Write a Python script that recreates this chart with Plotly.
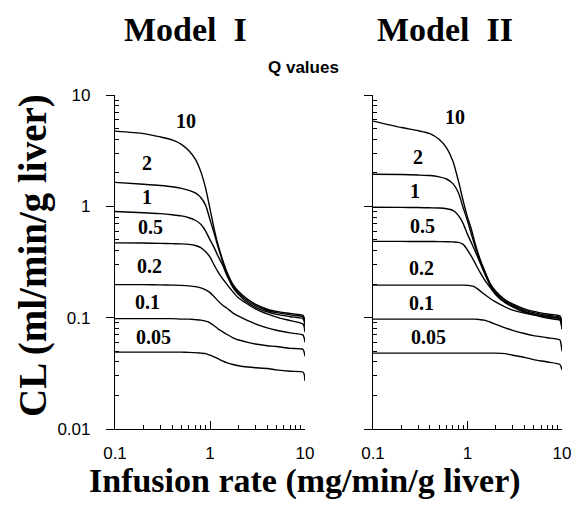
import plotly.graph_objects as go

# ---------------- data ----------------
infusion_rate = [0.1, 0.2, 0.3, 0.4, 0.5, 0.6, 0.7, 0.8, 0.9, 1.0, 1.1, 1.2,
                 1.35, 1.5, 1.75, 2.0, 2.5, 3, 4, 5, 7, 9.5, 9.8, 10]
q_labels = ["10", "2", "1", "0.5", "0.2", "0.1", "0.05"]

# Model I clearance (ml/min/g liver)
m1_q10 = [4.74, 4.5, 4.2, 3.95, 3.6, 3.15, 2.65, 2.05, 1.45, 0.95, 0.64, 0.47,
          0.335, 0.26, 0.198, 0.172, 0.146, 0.132, 0.119, 0.114, 0.109, 0.105, 0.1, 0.092]
m1_q2 = [1.64, 1.58, 1.54, 1.5, 1.45, 1.39, 1.32, 1.2, 1.02, 0.76, 0.58, 0.45,
         0.325, 0.252, 0.192, 0.166, 0.141, 0.128, 0.116, 0.111, 0.106, 0.102, 0.097, 0.088]
m1_q1 = [0.90, 0.875, 0.86, 0.84, 0.82, 0.79, 0.75, 0.69, 0.6, 0.5, 0.43, 0.365,
         0.3, 0.242, 0.186, 0.161, 0.136, 0.124, 0.113, 0.107, 0.102, 0.098, 0.093, 0.084]
m1_q05 = [0.47, 0.468, 0.465, 0.462, 0.46, 0.455, 0.445, 0.425, 0.39, 0.35, 0.3, 0.262,
          0.225, 0.2, 0.17, 0.15, 0.132, 0.12, 0.108, 0.101, 0.094, 0.088, 0.083, 0.074]
m1_q02 = [0.198, 0.198, 0.197, 0.196, 0.195, 0.193, 0.19, 0.185, 0.178, 0.168, 0.155, 0.143,
          0.13, 0.122, 0.11, 0.103, 0.094, 0.088, 0.081, 0.077, 0.073, 0.07, 0.066, 0.06]
m1_q01 = [0.098, 0.098, 0.098, 0.098, 0.097, 0.097, 0.096, 0.095, 0.093, 0.09, 0.085, 0.08,
          0.075, 0.071, 0.066, 0.063, 0.06, 0.058, 0.056, 0.055, 0.053, 0.052, 0.049, 0.045]
m1_q005 = [0.049, 0.049, 0.049, 0.049, 0.049, 0.0488, 0.0485, 0.048, 0.0475, 0.046, 0.0445, 0.043,
           0.041, 0.0395, 0.038, 0.037, 0.036, 0.0355, 0.035, 0.034, 0.033, 0.0325, 0.031, 0.027]

# Model II clearance (ml/min/g liver)
m2_q10 = [5.83, 5.1, 4.78, 4.5, 4.0, 3.35, 2.55, 1.7, 1.12, 0.8, 0.62, 0.47,
          0.34, 0.27, 0.2, 0.172, 0.145, 0.133, 0.12, 0.114, 0.108, 0.104, 0.098, 0.09]
m2_q2 = [1.94, 1.93, 1.91, 1.89, 1.84, 1.76, 1.6, 1.33, 0.97, 0.74, 0.56, 0.44,
         0.33, 0.265, 0.197, 0.168, 0.142, 0.13, 0.117, 0.111, 0.105, 0.101, 0.095, 0.087]
m2_q1 = [0.98, 0.978, 0.975, 0.97, 0.965, 0.95, 0.92, 0.83, 0.7, 0.56, 0.47, 0.4,
         0.315, 0.255, 0.192, 0.164, 0.138, 0.127, 0.114, 0.108, 0.102, 0.098, 0.092, 0.083]
m2_q05 = [0.484, 0.484, 0.483, 0.483, 0.482, 0.481, 0.479, 0.475, 0.455, 0.405, 0.355, 0.31,
          0.258, 0.222, 0.185, 0.16, 0.136, 0.125, 0.112, 0.106, 0.099, 0.095, 0.089, 0.079]
m2_q02 = [0.196, 0.196, 0.196, 0.196, 0.196, 0.196, 0.196, 0.196, 0.196, 0.195, 0.193, 0.188,
          0.175, 0.163, 0.148, 0.138, 0.125, 0.117, 0.11, 0.106, 0.102, 0.098, 0.09, 0.079]
m2_q01 = [0.097, 0.097, 0.097, 0.097, 0.097, 0.097, 0.097, 0.097, 0.097, 0.097, 0.097, 0.097,
          0.096, 0.095, 0.091, 0.087, 0.081, 0.077, 0.072, 0.069, 0.066, 0.063, 0.057, 0.05]
m2_q005 = [0.048, 0.048, 0.048, 0.048, 0.048, 0.048, 0.048, 0.048, 0.048, 0.048, 0.048, 0.048,
           0.048, 0.048, 0.048, 0.048, 0.0475, 0.046, 0.044, 0.042, 0.04, 0.038, 0.036, 0.034]

model1 = [m1_q10, m1_q2, m1_q1, m1_q05, m1_q02, m1_q01, m1_q005]
model2 = [m2_q10, m2_q2, m2_q1, m2_q05, m2_q02, m2_q01, m2_q005]

x_tickvals = [0.1, 1, 10]
x_ticktext = ["0.1", "1", "10"]
y_tickvals = [0.01, 0.1, 1, 10]
y_ticktext = ["0.01", "0.1", "1", "10"]
minor_vals = [0.02, 0.03, 0.04, 0.05, 0.06, 0.07, 0.08, 0.09,
              0.2, 0.3, 0.4, 0.5, 0.6, 0.7, 0.8, 0.9,
              2, 3, 4, 5, 6, 7, 8, 9]

# canvas geometry (page body has an 8px margin, compensated by OFF)
W, H = 583, 514
OFF = 8


def px_x(px):
    return (px - OFF) / W


def px_y(py):
    return 1 - (py - OFF) / H


m1_label_px = [(186, 121), (147, 163), (147, 197), (150, 227), (149, 266), (147, 302), (153, 337)]
m2_label_px = [(455, 117), (418, 157), (415, 191), (422, 226), (421, 268), (421, 303), (428, 337)]

# ---------------- figure ----------------
fig = go.Figure()
line_style = dict(color="black", width=1.4, shape="spline", smoothing=0.6)
for ys in model1:
    fig.add_trace(go.Scatter(x=infusion_rate, y=ys, mode="lines", line=line_style,
                             xaxis="x", yaxis="y", showlegend=False, hoverinfo="skip"))
for ys in model2:
    fig.add_trace(go.Scatter(x=infusion_rate, y=ys, mode="lines", line=line_style,
                             xaxis="x2", yaxis="y2", showlegend=False, hoverinfo="skip"))

tick_font = dict(family="Liberation Sans, Arial", size=17, color="black")


def xaxis_cfg(domain, anchor):
    return dict(type="log", range=[-1, 1], domain=domain, anchor=anchor, automargin=False,
                tickvals=x_tickvals, ticktext=x_ticktext,
                ticks="inside", ticklen=8, tickwidth=1, tickcolor="black",
                minor=dict(tickvals=minor_vals, ticks="inside", ticklen=4,
                           tickcolor="black", tickwidth=1, showgrid=False),
                showline=True, linecolor="black", linewidth=1.2,
                showgrid=False, zeroline=False, tickfont=tick_font,
                ticklabelstandoff=8)


def yaxis_cfg(anchor, labels):
    return dict(type="log", range=[-2, 1], domain=[px_y(429), px_y(95)], anchor=anchor,
                automargin=False,
                tickvals=y_tickvals, ticktext=y_ticktext, showticklabels=labels,
                ticks="outside", ticklen=8, tickwidth=1, tickcolor="black",
                minor=dict(tickvals=minor_vals, ticks="inside", ticklen=4,
                           tickcolor="black", tickwidth=1, showgrid=False),
                showline=True, linecolor="black", linewidth=1.2,
                showgrid=False, zeroline=False, tickfont=tick_font,
                ticklabelstandoff=12)


annotations = []
serif_bold = dict(family="Liberation Serif, Times New Roman", color="black", weight="bold")
for txt, (px, py) in zip(q_labels, m1_label_px):
    annotations.append(dict(text=txt, x=px_x(px), y=px_y(py), xref="paper", yref="paper",
                            showarrow=False, xanchor="center", yanchor="middle",
                            font=dict(serif_bold, size=20)))
for txt, (px, py) in zip(q_labels, m2_label_px):
    annotations.append(dict(text=txt, x=px_x(px), y=px_y(py), xref="paper", yref="paper",
                            showarrow=False, xanchor="center", yanchor="middle",
                            font=dict(serif_bold, size=20)))

annotations += [
    dict(text="Model  I", x=px_x(185), y=px_y(30), xref="paper", yref="paper",
         showarrow=False, xanchor="center", yanchor="middle", font=dict(serif_bold, size=34)),
    dict(text="Model  II", x=px_x(445), y=px_y(30), xref="paper", yref="paper",
         showarrow=False, xanchor="center", yanchor="middle", font=dict(serif_bold, size=34)),
    dict(text="Q values", x=px_x(303), y=px_y(67), xref="paper", yref="paper",
         showarrow=False, xanchor="center", yanchor="middle",
         font=dict(family="Liberation Sans, Arial", size=17, color="black", weight="bold")),
    dict(text="Infusion rate (mg/min/g liver)", x=px_x(305), y=px_y(481), xref="paper", yref="paper",
         showarrow=False, xanchor="center", yanchor="middle", font=dict(serif_bold, size=34)),
    dict(text="CL (ml/min/g liver)", x=px_x(33), y=px_y(256), xref="paper", yref="paper",
         showarrow=False, xanchor="center", yanchor="middle", textangle=-90,
         font=dict(serif_bold, size=39)),
]

fig.update_layout(
    width=W, height=H,
    margin=dict(l=0, r=0, t=0, b=0, autoexpand=False),
    paper_bgcolor="white", plot_bgcolor="white",
    xaxis=xaxis_cfg([px_x(115), px_x(305)], "y"),
    xaxis2=xaxis_cfg([px_x(373), px_x(562)], "y2"),
    yaxis=yaxis_cfg("x", True),
    yaxis2=yaxis_cfg("x2", False),
    annotations=annotations,
)

fig.write_html("out.html")
